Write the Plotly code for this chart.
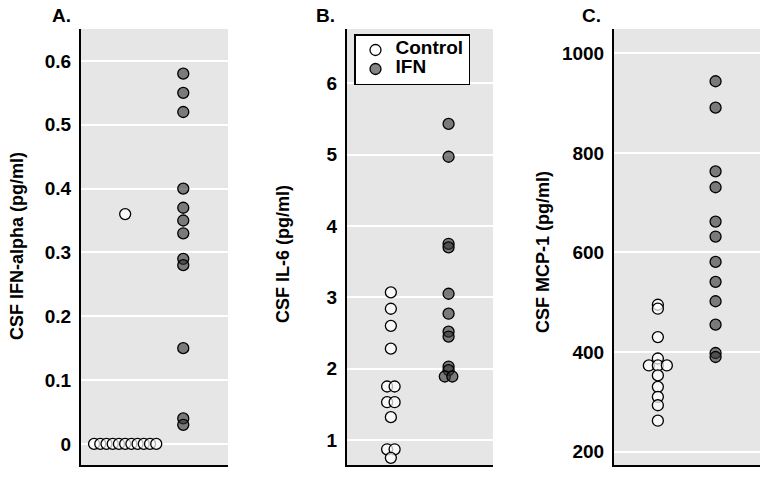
import plotly.graph_objects as go
from collections import Counter

# ---- data ----
groups = ["Control", "IFN"]
ifna_control = [0, 0, 0, 0, 0, 0, 0, 0, 0, 0, 0, 0.36]
ifna_ifn = [0.58, 0.55, 0.52, 0.40, 0.37, 0.35, 0.33, 0.29, 0.28, 0.15, 0.04, 0.03]
il6_control = [3.07, 2.84, 2.60, 2.28, 1.75, 1.75, 1.53, 1.53, 1.32, 0.87, 0.87, 0.75]
il6_ifn = [5.43, 4.97, 3.75, 3.70, 3.05, 2.77, 2.52, 2.45, 2.03, 1.98, 1.89, 1.89]
mcp1_control = [495, 487, 430, 387, 373, 373, 373, 353, 330, 310, 293, 262]
mcp1_ifn = [944, 891, 763, 731, 662, 632, 581, 541, 502, 455, 398, 390]

panel_labels = ["A.", "B.", "C."]
y_titles = ["CSF IFN-alpha (pg/ml)", "CSF IL-6 (pg/ml)", "CSF MCP-1 (pg/ml)"]

# ---- style ----
FONT = "Liberation Sans, Arial, Helvetica, sans-serif"
BG = "#e6e6e6"
panels = [
    dict(data=(ifna_control, ifna_ifn), dom=(81, 228), yr=[-0.033, 0.65], dtick=0.1, tick0=0, step=0.107,
         title_x=17, title_y=246, lab_x=61),
    dict(data=(il6_control, il6_ifn), dom=(347, 493), yr=[0.65, 6.76], dtick=1, tick0=0, step=0.13,
         title_x=283, title_y=254, lab_x=325),
    dict(data=(mcp1_control, mcp1_ifn), dom=(614, 760), yr=[173, 1049], dtick=200, tick0=0, step=0.156,
         title_x=543, title_y=252, lab_x=591),
]
W, H = 767, 482
Y_TOP, Y_BOT = 29, 465

marker_styles = {
    "Control": dict(color="rgba(255,255,255,0.7)", line=dict(color="black", width=1.3), size=11),
    "IFN": dict(color="rgba(50,50,50,0.6)", line=dict(color="black", width=1.3), size=11),
}


def spread_x(center, values, step):
    counts = Counter(values)
    seen = Counter()
    xs = []
    for v in values:
        k = counts[v]
        i = seen[v]
        seen[v] += 1
        xs.append(center + (i - (k - 1) / 2) * step)
    return xs


fig = go.Figure()
annotations = []
for p_i, p in enumerate(panels):
    ax_suffix = "" if p_i == 0 else str(p_i + 1)
    for g_i, (gname, vals) in enumerate(zip(groups, p["data"])):
        fig.add_trace(go.Scatter(
            x=spread_x(g_i + 1, vals, p["step"]), y=vals, mode="markers",
            marker=marker_styles[gname],
            name="<span style='font-size:19px'>" + gname + "</span>",
            legendgroup=gname,
            showlegend=(p_i == 1), xaxis="x" + ax_suffix, yaxis="y" + ax_suffix,
            hoverinfo="y",
        ))
    x0, x1 = p["dom"]
    fig.layout["xaxis" + ax_suffix] = dict(
        domain=[x0 / W, x1 / W], range=[0.24, 2.77], showticklabels=False, showgrid=False,
        zeroline=False, showline=True, linecolor="black", linewidth=2, ticks="",
        anchor="y" + ax_suffix, fixedrange=True,
    )
    fig.layout["yaxis" + ax_suffix] = dict(
        domain=[1 - Y_BOT / H, 1 - Y_TOP / H], range=p["yr"], dtick=p["dtick"], tick0=p["tick0"],
        showgrid=True, gridcolor="white", gridwidth=2, zeroline=False,
        showline=True, linecolor="black", linewidth=2,
        ticks="outside", ticklen=4, tickcolor="rgba(0,0,0,0)",
        tickfont=dict(family=FONT, size=19, color="black", weight="bold"),
        anchor="x" + ax_suffix, fixedrange=True,
    )
    annotations.append(dict(
        text=y_titles[p_i], textangle=-90, x=p["title_x"] / W, y=1 - p["title_y"] / H,
        xref="paper", yref="paper", showarrow=False, xanchor="center", yanchor="middle",
        font=dict(family=FONT, size=18, color="black", weight="bold"),
    ))
    annotations.append(dict(
        text=panel_labels[p_i], x=p["lab_x"] / W, y=1 - 15 / H,
        xref="paper", yref="paper", showarrow=False, xanchor="center", yanchor="middle",
        font=dict(family=FONT, size=19, color="black", weight="bold"),
    ))

fig.update_layout(
    width=W, height=H,
    margin=dict(l=0, r=0, t=0, b=0),
    paper_bgcolor="white",
    plot_bgcolor=BG,
    annotations=annotations,
    showlegend=True,
    legend=dict(
        x=354 / W, y=1 - 34 / H, xanchor="left", yanchor="top",
        bgcolor="white", bordercolor="black", borderwidth=1.5,
        font=dict(family=FONT, size=10.5, color="black", weight="bold"),
        tracegroupgap=0, itemwidth=30,
    ),
)

fig.write_html("out.html", config={"displayModeBar": False},
               post_script="document.body.style.margin='0';document.body.style.padding='0';")
